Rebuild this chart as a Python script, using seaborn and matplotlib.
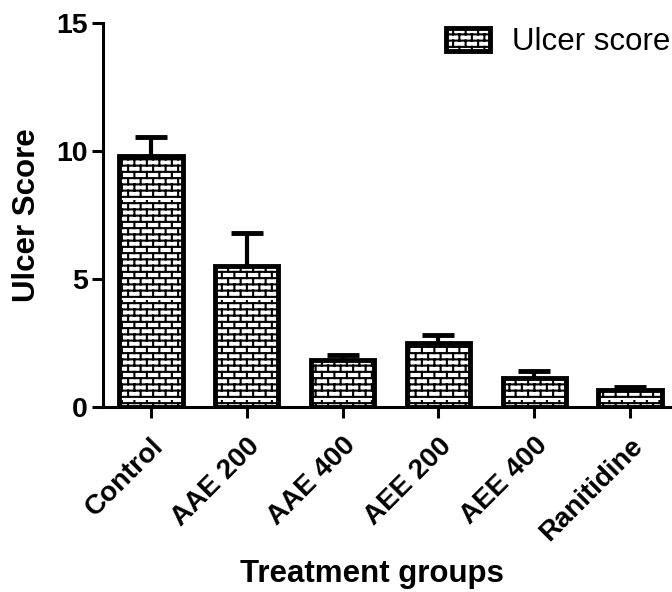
import numpy as np
import pandas as pd
import matplotlib
matplotlib.use('Agg')
import matplotlib.pyplot as plt
import matplotlib.hatch as mhatch
import matplotlib.transforms as mtrans
from matplotlib.path import Path
import seaborn as sns

groups = ['Control', 'AAE 200', 'AAE 400', 'AEE 200', 'AEE 400', 'Ranitidine']
ulcer_score = [9.8, 5.5, 1.85, 2.5, 1.15, 0.67]
ulcer_sem = [0.75, 1.3, 0.17, 0.33, 0.24, 0.13]


class BrickHatch(mhatch.HatchPatternBase):
    # brick wall fill like the GraphPad pattern
    rows = 16
    cols = 8

    def __init__(self, hatch, density):
        self.num_vertices = 2 * self.rows * (self.cols + 1) if '-' in hatch else 0

    def set_vertices_and_codes(self, vertices, codes):
        segs = []
        for r in range(self.rows):
            y0 = (r + 0.5) / self.rows
            y1 = (r + 1.5) / self.rows
            segs.append(((0, y0), (1, y0)))
            shift = 0.5 if r % 2 else 0.0
            for c in range(self.cols):
                x = (c + 0.25 + shift) / self.cols
                segs.append(((x, y0), (x, min(y1, 1.0))))
        vertices[:] = np.array(segs).reshape(-1, 2)
        codes[0::2] = Path.MOVETO
        codes[1::2] = Path.LINETO


mhatch._hatch_types = [BrickHatch]

sns.set_style('ticks')
plt.rcParams['font.family'] = ['Liberation Sans', 'DejaVu Sans']
plt.rcParams['hatch.linewidth'] = 1.5
plt.rcParams['hatch.color'] = 'black'
plt.rcParams['text.color'] = 'black'
plt.rcParams['axes.labelcolor'] = 'black'

df = pd.DataFrame({'group': groups, 'score': ulcer_score})

fig = plt.figure(figsize=(6.72, 5.92), dpi=100)
ax = fig.add_axes([103 / 672, 185 / 592, 575 / 672, 384 / 592])

sns.barplot(data=df, x='group', y='score', order=groups, width=0.66,
            color='white', saturation=1, edgecolor='black', linewidth=3.5,
            errorbar=None, label='Ulcer score', ax=ax)
for p in ax.patches:
    p.set_hatch('-')

eb = ax.errorbar(np.arange(len(groups)), ulcer_score,
                 yerr=[np.zeros(len(groups)), ulcer_sem], fmt='none',
                 ecolor='black', elinewidth=3, capsize=11.5, capthick=3.5,
                 zorder=3, label='_nolegend_')
eb[1][0].set_visible(False)

ax.set_xlim(-0.5, 5.5)
ax.set_ylim(0, 15)
ax.set_yticks([0, 5, 10, 15])
ax.set_xticks(range(len(groups)))
ax.set_xticklabels(groups, rotation=45, ha='right', rotation_mode='anchor',
                   fontweight='bold', fontsize=20)
shift = mtrans.ScaledTranslation(-5 / 100, 0, fig.dpi_scale_trans)
for t in ax.get_xticklabels():
    t.set_transform(t.get_transform() + shift)
for t in ax.get_yticklabels():
    t.set_fontweight('bold')

sns.despine(ax=ax)
for s in ['left', 'bottom']:
    ax.spines[s].set_linewidth(2.2)
    ax.spines[s].set_color('black')
ax.tick_params(axis='both', width=2.2, length=8, color='black', labelcolor='black')
ax.tick_params(axis='y', labelsize=20.5, pad=3)
ax.tick_params(axis='x', pad=10.5)

ax.set_ylabel('Ulcer Score', fontsize=22.5, fontweight='bold')
ax.yaxis.set_label_coords(-0.106, 0.5)
ax.set_xlabel('Treatment groups', fontsize=22.5, fontweight='bold')
ax.xaxis.set_label_coords(0.468, -0.395)

ax.legend(loc='upper left', bbox_to_anchor=(446 / 672, 1 - 27 / 592),
          bbox_transform=fig.transFigure, frameon=False, fontsize=22.5,
          handlelength=1.4, handleheight=0.75, handletextpad=0.7,
          borderpad=0, borderaxespad=0)

fig.savefig('out.png', dpi=100)
